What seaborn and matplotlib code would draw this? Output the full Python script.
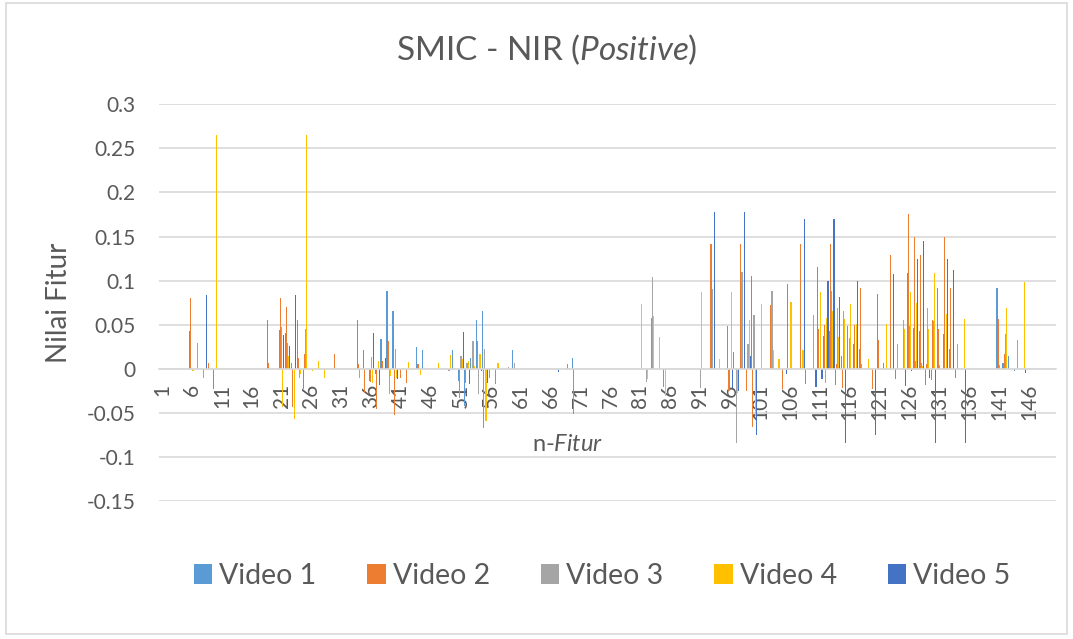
import numpy as np
import pandas as pd
import matplotlib
matplotlib.use("Agg")
import matplotlib.pyplot as plt
import seaborn as sns
from matplotlib.patches import Patch, Rectangle

# ---- data -------------------------------------------------------------
features = [str(i) for i in range(1, 151)]
video_names = ["Video 1", "Video 2", "Video 3", "Video 4", "Video 5"]
video_colors = ["#5B9BD5", "#ED7D31", "#A5A5A5", "#FFC000", "#4472C4"]

video1 = [
    0, 0, 0, 0, 0, 0.043, 0, 0, 0, -0.023,
    0, 0, 0, 0, 0, 0, 0, 0, 0.0555, 0,
    0.044, 0.041, 0.006, 0.0555, -0.023, 0, 0, 0, 0, 0,
    0, 0, 0, 0.0555, 0.021, -0.014, -0.006, 0.034, 0.088, 0.066,
    0, 0, 0, 0.025, 0.021, 0, 0, 0, 0, 0.021,
    -0.014, -0.042, 0.012, 0.0555, 0.066, 0, 0, 0, 0, 0.021,
    0, 0, 0, 0, 0, 0, 0, 0, 0, 0.012,
    0, 0, 0, 0, 0, 0, 0, 0, 0, 0,
    0, 0, 0, 0, 0, 0, 0, 0, 0, 0,
    0, 0, 0, 0, 0, 0.048, 0.019, 0, 0, 0.105,
    0, 0, 0, 0, 0, 0.096, 0, 0, -0.017, 0,
    0.116, 0.037, 0.043, -0.018, 0.014, 0.048, 0.028, 0.022, 0, 0,
    0.085, 0.007, 0, -0.012, 0, 0.109, 0.046, 0.043, -0.018, -0.013,
    0.092, 0.039, 0.022, -0.011, 0, 0, 0, 0, 0, 0,
    0.092, 0.007, 0.014, -0.003, 0, 0, 0, 0, 0, 0,
]
video2 = [
    0, 0, 0, 0, 0, 0.080, 0, 0, 0.007, 0,
    0, 0, 0, 0, 0, 0, 0, 0, 0.007, 0,
    0.080, 0.070, -0.043, 0.012, 0.017, 0, 0, 0, 0, 0.017,
    0, 0, 0, 0.005, -0.027, -0.015, -0.046, 0.009, 0.031, -0.052,
    -0.011, -0.016, 0, 0.005, 0, 0, 0, 0, 0, 0,
    -0.033, -0.016, 0, 0.031, -0.067, -0.010, -0.017, 0, 0, 0,
    0, 0, 0, 0, 0, 0, 0, 0, 0.005, -0.051,
    0, 0, 0, 0, 0, 0, 0, 0, 0, 0,
    0, 0, 0.058, 0, -0.021, 0, 0, 0, 0, 0,
    0, 0, 0.142, 0, 0, -0.025, 0, 0.142, -0.025, -0.066,
    0, 0, 0.072, 0, -0.023, 0, 0, 0.141, 0, 0,
    0.045, 0.050, 0.141, 0.005, -0.022, 0, 0.050, 0.092, 0, -0.023,
    0.033, 0, 0.129, 0, 0, 0.176, 0.149, 0.129, 0.005, 0.0555,
    0.045, 0.149, 0.092, 0, 0, 0, 0, 0, 0, 0,
    0.057, 0.017, 0, 0, 0, 0, 0, 0, 0, 0,
]
video3 = [
    0, 0, 0, 0, 0, 0, 0.029, -0.011, 0, 0,
    0, 0, 0, 0, 0, 0, 0, 0, 0, 0,
    0.047, 0.029, 0, -0.010, 0.045, 0, 0, 0, 0, 0,
    0, 0, 0, -0.010, 0, 0.013, 0, 0, -0.029, 0.022,
    0, 0, 0, 0, 0, 0, 0, 0, -0.003, 0,
    0.014, 0.006, 0.032, -0.029, 0.022, 0, 0, 0, 0.002, 0.007,
    0, 0, 0, 0, 0, 0, 0, 0, 0, 0,
    0, 0, 0, 0, 0, 0, 0, 0, 0, 0,
    0, -0.015, 0.104, 0, 0, 0, 0, 0, 0, 0,
    -0.022, 0, 0.091, 0, 0, 0, -0.084, 0.110, 0.028, 0.061,
    0, 0, 0.088, 0, 0, 0, 0, 0, 0, 0.061,
    0, -0.016, 0.088, 0.069, 0.065, 0.035, 0, 0.005, 0, 0,
    0, 0, 0, 0.028, 0.055, 0.048, 0.009, 0.006, 0.069, 0.054,
    0.004, 0, 0, 0.028, 0, 0, 0, 0, 0, 0,
    0.004, 0.040, 0, 0.033, 0, 0, 0, 0, 0, 0,
]
video4 = [
    0, 0, 0, 0, 0, -0.003, 0, 0, 0, 0.265,
    0, 0, 0, 0, 0, 0, 0, 0, 0, 0,
    -0.043, 0.015, -0.057, -0.006, 0.265, -0.002, 0.009, -0.011, 0, 0,
    0, 0, 0, 0, 0, -0.016, 0.009, 0, -0.008, -0.010,
    0, 0.008, 0, -0.007, 0, 0, 0.007, 0, 0.016, 0,
    0.011, 0.009, 0.003, 0.017, -0.059, 0, 0.007, 0, 0, 0,
    0, 0, 0, 0, 0, 0, 0, 0, 0, 0,
    0, 0, 0, 0, 0, 0, 0, 0, 0, 0,
    0.074, -0.012, 0.060, 0.036, -0.031, 0, 0, 0, 0, 0,
    0.087, 0, 0, 0.011, 0, 0.087, -0.027, 0, 0.0555, -0.054,
    0.074, 0, 0.021, 0.011, 0, 0.076, 0, 0.021, 0, 0,
    0.087, 0.058, 0.065, 0.036, 0.057, 0.074, 0.051, 0, 0.011, 0,
    0, 0.051, 0, 0, 0.045, 0.087, 0.075, 0.003, 0.045, 0.109,
    0, 0.062, 0, 0, 0.057, 0, 0, 0, 0, 0,
    0, 0.069, 0, 0, 0.098, 0, 0, 0, 0, 0,
]
video5 = [
    0, 0, 0, 0, 0, 0, 0, 0.084, 0, 0,
    0, 0, 0, 0, 0, 0, 0, 0, 0, 0,
    0.038, 0.026, 0.084, 0, 0, 0, 0, 0, 0, 0,
    0, 0, 0, 0, 0, 0.041, -0.018, 0.012, 0, -0.012,
    0, 0, 0, 0, 0, 0, 0, 0, 0, 0,
    0.042, -0.017, 0, -0.003, -0.016, 0, 0, 0, 0, 0,
    0, 0, 0, 0, 0, 0, -0.004, 0, 0, 0,
    0, 0, 0, 0, 0, 0, 0, 0, 0, 0,
    0, 0, 0, 0, 0, 0, 0, 0, 0, 0,
    0, 0, 0.178, 0, 0, -0.022, -0.025, 0.178, 0.014, -0.075,
    0, 0, 0, 0, -0.006, 0, 0, 0.170, 0, -0.021,
    -0.012, 0.099, 0.170, 0.081, -0.084, 0, 0.099, 0, 0, -0.075,
    0, 0, 0.108, 0, -0.019, -0.003, 0.125, 0.145, -0.010, -0.084,
    0, 0.124, 0.112, 0, -0.084, 0, 0, 0, 0, 0,
    0, 0, 0, 0, -0.005, 0, 0, 0, 0, 0,
]

y_ticks = [-0.15, -0.1, -0.05, 0, 0.05, 0.1, 0.15, 0.2, 0.25, 0.3]
y_tick_labels = ["-0.15", "-0.1", "-0.05", "0", "0.05", "0.1", "0.15", "0.2", "0.25", "0.3"]

# ---- long-form table --------------------------------------------------
series = [video1, video2, video3, video4, video5]
df = pd.concat(
    [pd.DataFrame({"fitur": features, "nilai": vals, "video": name})
     for name, vals in zip(video_names, series)],
    ignore_index=True,
)

# ---- styling ----------------------------------------------------------
sns.set_theme(style="white")
plt.rcParams["font.family"] = ["Lato", "DejaVu Sans"]
plt.rcParams["mathtext.fontset"] = "custom"
plt.rcParams["mathtext.rm"] = "Lato"
plt.rcParams["mathtext.it"] = "Lato:italic"
text_color = "#595959"
grid_color = "#D9D9D9"

W, H = 1073, 639
fig = plt.figure(figsize=(W / 100, H / 100), dpi=100)
fig.patch.set_facecolor("white")
ax = fig.add_axes([159 / W, 1 - 501 / H, (1056 - 159) / W, (501 - 104.3) / H])

sns.barplot(
    data=df, x="fitur", y="nilai", hue="video",
    order=features, hue_order=video_names, palette=video_colors,
    width=0.92, saturation=1, errorbar=None, legend=False,
    linewidth=0, ax=ax,
)

ax.set_ylim(-0.15, 0.3)
ax.set_yticks(y_ticks)
ax.set_yticklabels(y_tick_labels)
ax.set_xticks(range(0, len(features), 5))
ax.set_xticklabels(features[::5])
ax.set_xlabel("")
ax.set_ylabel("")

ax.set_axisbelow(True)
ax.yaxis.grid(True, color=grid_color, linewidth=1.2)
ax.xaxis.grid(False)
for side in ("left", "right", "top"):
    ax.spines[side].set_visible(False)
ax.spines["bottom"].set_position(("data", 0))
ax.spines["bottom"].set_color(grid_color)
ax.spines["bottom"].set_linewidth(1.2)

ax.tick_params(axis="x", length=0, pad=11, labelsize=15,
               labelcolor=text_color, labelrotation=90)
ax.tick_params(axis="y", length=0, pad=17, labelsize=15, labelcolor=text_color)

# ---- titles -----------------------------------------------------------
fig.text(547 / W, 1 - 50 / H, r"SMIC - NIR ($\mathit{Positive}$)",
         ha="center", va="center", fontsize=24, color=text_color)
fig.text(568 / W, 1 - 451 / H, r"n-$\mathit{Fitur}$",
         ha="center", va="baseline", fontsize=17, color=text_color)
fig.text(59 / W, 1 - 302.5 / H, "Nilai Fitur", rotation=90,
         ha="center", va="center", fontsize=20, color=text_color)

# ---- legend -----------------------------------------------------------
handles = [Patch(facecolor=c, edgecolor="none") for c in video_colors]
fig.legend(handles, video_names, loc="center", ncol=5,
           bbox_to_anchor=(602 / W, 1 - 576 / H), frameon=False,
           fontsize=20.5, labelcolor=text_color,
           handlelength=0.65, handleheight=0.65, handletextpad=0.25,
           columnspacing=1.78)

# ---- chart frame ------------------------------------------------------
fig.patches.append(Rectangle((6 / W, 5 / H), (1067 - 6) / W, (636 - 5) / H,
                             transform=fig.transFigure, fill=False,
                             edgecolor=grid_color, linewidth=1.2))

fig.savefig("out.png", dpi=100, facecolor="white")
